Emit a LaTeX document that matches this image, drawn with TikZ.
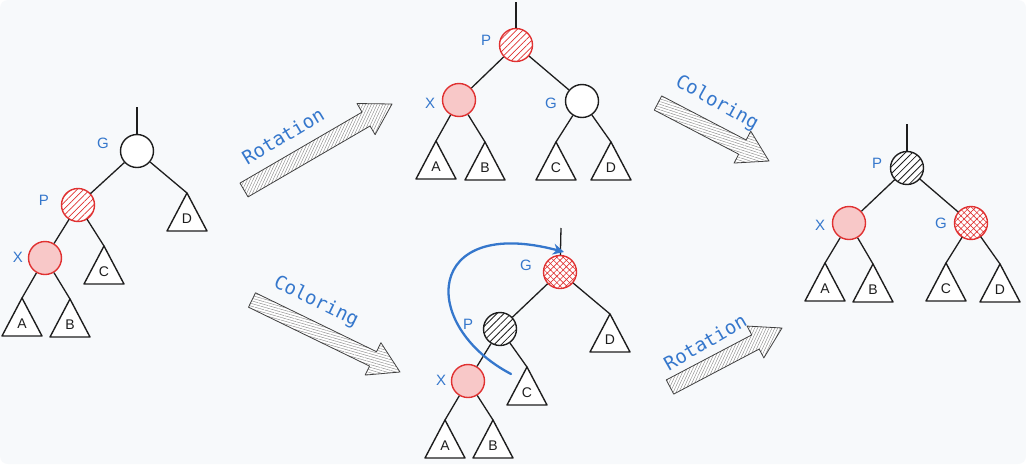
\documentclass[tikz,border=0pt]{standalone}
\usepackage{fontspec}
\setmainfont{Liberation Sans}
\newfontfamily\codefont{DejaVu Sans Mono}
\usetikzlibrary{calc,patterns.meta,arrows.meta}
\definecolor{bgc}{HTML}{F7F9FB}
\definecolor{redc}{HTML}{E03131}
\definecolor{pinkc}{HTML}{F8C8C8}
\definecolor{bluec}{HTML}{3577CC}
\definecolor{inkc}{HTML}{1E1E1E}
\definecolor{grayc}{HTML}{8C8C8C}
\tikzset{
 edge/.style={draw=inkc, line width=1.3pt},
 nodecirc/.style={circle, minimum size=33pt, inner sep=0pt, line width=1.4pt},
 plain/.style={nodecirc, draw=inkc, fill=white},
 redfill/.style={nodecirc, draw=redc, fill=pinkc},
 redhatch/.style={nodecirc, draw=redc, preaction={fill=white}, pattern={Lines[angle=45,distance=4.5pt,line width=0.7pt]}, pattern color=redc},
 redcross/.style={nodecirc, draw=redc, preaction={fill=white}, pattern={Hatch[angle=45,distance=4.5pt,line width=0.6pt]}, pattern color=redc},
 blackhatch/.style={nodecirc, draw=inkc, preaction={fill=white}, pattern={Lines[angle=45,distance=5pt,line width=0.8pt]}, pattern color=inkc},
 tri/.style={draw=inkc, line width=1.4pt, fill=white, line join=round},
 lbl/.style={text=bluec, font=\fontsize{15}{15}\selectfont},
 trilbl/.style={text=inkc, font=\fontsize{14}{14}\selectfont},
 barrow/.style={draw=inkc!85, line width=0.8pt, line join=round, preaction={fill=white}},
 alabel/.style={text=bluec, font=\codefont\fontsize{19}{19}\selectfont},
 bluearrow/.style={draw=bluec, line width=2.3pt, line cap=round, -{Stealth[length=11pt,width=11pt]}},
}
% block arrow from #1 to #2, hatch angle #3
\newcommand\blockarrow[3]{%
 \path ($(#2)!30pt!(#1)$) coordinate (hb);
 \draw[barrow, pattern={Lines[angle=#3,distance=2.6pt,line width=0.45pt]}, pattern color=grayc]
   ($(#1)!8pt!90:(#2)$) -- ($(hb)!8pt!-90:(#1)$) -- ($(hb)!18pt!-90:(#1)$) -- (#2)
   -- ($(hb)!18pt!90:(#1)$) -- ($(hb)!8pt!90:(#1)$) -- ($(#1)!8pt!-90:(#2)$) -- cycle;
}
% subtree triangle with apex coordinate #1 at #2 and letter #3
\newcommand\subtree[3]{%
 \coordinate (#1) at (#2);
 \draw[tri] (#1) -- ++(-20,38) -- ++(40,0) -- cycle;
 \node[trilbl] (#1l) at ($(#1)+(0,26)$) {#3};
}
\begin{document}
\begin{tikzpicture}[x=1pt,y=-1pt]
\fill[white] (0,0) rectangle (1026,464);
\fill[bgc, rounded corners=8pt] (0,0) rectangle (1026,464);
\useasboundingbox (0,0) rectangle (1026,464);

% ---------- Tree 1 (left) ----------
\coordinate (r1) at (137,107);
\node[plain] (g1) at (137,151) {};
\node[redhatch] (p1) at (78,205) {};
\node[redfill] (x1) at (45,258) {};
\subtree{d1}{187,193}{D}
\subtree{c1}{104,246}{C}
\subtree{a1}{22,298}{A}
\subtree{b1}{70,299}{B}
\draw[edge] (r1) -- (g1);
\draw[edge] (g1) -- (p1);
\draw[edge] (g1) -- (d1);
\draw[edge] (p1) -- (x1);
\draw[edge] (p1) -- (c1);
\draw[edge] (x1) -- (a1);
\draw[edge] (x1) -- (b1);
\node[lbl] (g1t) at (103,143) {G};
\node[lbl] (p1t) at (44,200) {P};
\node[lbl] (x1t) at (18,257) {X};

% ---------- Tree 2 (top middle) ----------
\coordinate (r2) at (516,2);
\node[redhatch] (p2) at (516,45) {};
\node[redfill] (x2) at (459,100) {};
\node[plain] (g2) at (582,101) {};
\subtree{a2}{436,141}{A}
\subtree{b2}{485,142}{B}
\subtree{c2}{556,142}{C}
\subtree{d2}{611,142}{D}
\draw[edge] (r2) -- (p2);
\draw[edge] (p2) -- (x2);
\draw[edge] (p2) -- (g2);
\draw[edge] (x2) -- (a2);
\draw[edge] (x2) -- (b2);
\draw[edge] (g2) -- (c2);
\draw[edge] (g2) -- (d2);
\node[lbl] (p2t) at (486,40) {P};
\node[lbl] (x2t) at (430,103) {X};
\node[lbl] (g2t) at (551,103) {G};

% ---------- Tree 3 (right) ----------
\coordinate (r3) at (907,124);
\node[blackhatch] (p3) at (907,168) {};
\node[redfill] (x3) at (849,223) {};
\node[redcross] (g3) at (971,223) {};
\subtree{a3}{825,263}{A}
\subtree{b3}{873,264}{B}
\subtree{c3}{946,263}{C}
\subtree{d3}{1000,264}{D}
\draw[edge] (r3) -- (p3);
\draw[edge] (p3) -- (x3);
\draw[edge] (p3) -- (g3);
\draw[edge] (x3) -- (a3);
\draw[edge] (x3) -- (b3);
\draw[edge] (g3) -- (c3);
\draw[edge] (g3) -- (d3);
\node[lbl] (p3t) at (877,163) {P};
\node[lbl] (x3t) at (820,225) {X};
\node[lbl] (g3t) at (941,223) {G};

% ---------- Tree 4 (bottom middle) ----------
\coordinate (r4) at (561,228);
\node[redcross] (g4) at (560,272) {};
\node[blackhatch] (p4) at (500,329) {};
\node[redfill] (x4) at (468,381) {};
\subtree{d4}{610,314}{D}
\subtree{c4}{527,367}{C}
\subtree{a4}{445,420}{A}
\subtree{b4}{493,420}{B}
\draw[edge] (r4) -- (g4);
\draw[edge] (g4) -- (p4);
\draw[edge] (g4) -- (d4);
\draw[edge] (p4) -- (x4);
\draw[edge] (p4) -- (c4);
\draw[edge] (x4) -- (a4);
\draw[edge] (x4) -- (b4);
\node[lbl] (g4t) at (526,265) {G};
\node[lbl] (p4t) at (468,324) {P};
\node[lbl] (x4t) at (441,380) {X};

% blue curved arrow
\coordinate (cs) at (511,374);
\coordinate (ce) at (564,252);
\draw[bluearrow] (cs) .. controls (418,325) and (425,215) .. (ce);

% ---------- block arrows ----------
\coordinate (ar1s) at (244,190); \coordinate (ar1e) at (392,104);
\blockarrow{ar1s}{ar1e}{65}
\node[alabel, rotate=31] (ar1t) at (283,136) {Rotation};

\coordinate (ar2s) at (658,103); \coordinate (ar2e) at (769,161);
\blockarrow{ar2s}{ar2e}{-18}
\node[alabel, rotate=-29] (ar2t) at (717,103) {Coloring};

\coordinate (ar3s) at (252,300); \coordinate (ar3e) at (400,372);
\blockarrow{ar3s}{ar3e}{-16}
\node[alabel, rotate=-26] (ar3t) at (316,302) {Coloring};

\coordinate (ar4s) at (670,387); \coordinate (ar4e) at (782,328);
\blockarrow{ar4s}{ar4e}{65}
\node[alabel, rotate=30] (ar4t) at (705,342) {Rotation};
\end{tikzpicture}
\end{document}
